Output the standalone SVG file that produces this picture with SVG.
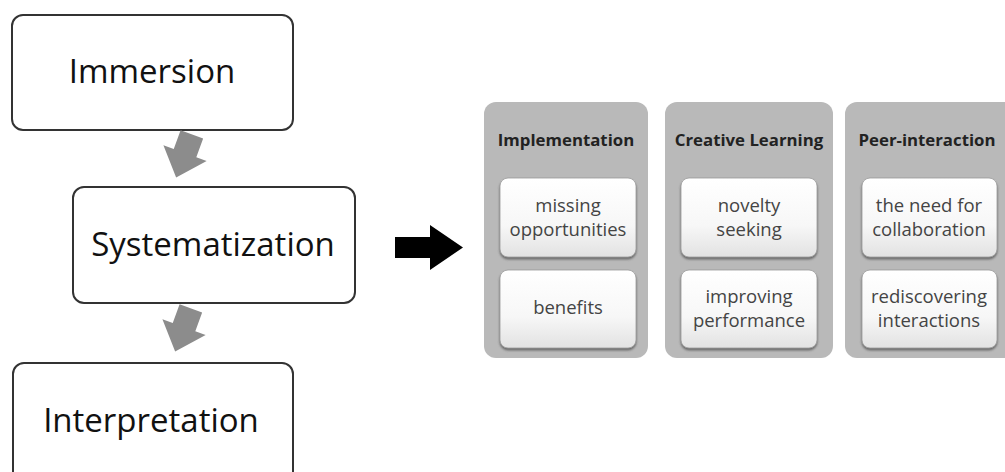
<svg xmlns="http://www.w3.org/2000/svg" width="1005" height="472" viewBox="0 0 1005 472">
<style>
.stage{fill:#fff;stroke:#333;stroke-width:2}
.big{font-family:"Open Sans","Liberation Sans",sans-serif;font-size:33px;fill:#111;text-anchor:middle}
.panel{fill:#b9b9b9}
.hdr{font-family:"Open Sans","Liberation Sans",sans-serif;font-size:16.8px;font-weight:bold;fill:#222;text-anchor:middle}
.item{fill:url(#g);stroke:#9a9a9a;stroke-width:0.8;filter:url(#sh)}
.it{font-family:"Open Sans","Liberation Sans",sans-serif;font-size:18.5px;fill:#444;text-anchor:middle}
.garrow{fill:#8c8c8c}
</style>
<defs>
<linearGradient id="g" x1="0" y1="0" x2="0" y2="1">
<stop offset="0" stop-color="#ffffff"/>
<stop offset="0.6" stop-color="#f7f7f7"/>
<stop offset="1" stop-color="#e2e2e2"/>
</linearGradient>
<filter id="sh" x="-10%" y="-10%" width="120%" height="130%">
<feDropShadow dx="0" dy="2" stdDeviation="1.2" flood-color="#555" flood-opacity="0.8"/>
</filter>
<path id="ga" d="M-12,-23 L12,-23 L12,-3 L23,-3 L0,23 L-23,-3 L-12,-3 Z"/>
</defs>
<g id="immersion">
<rect class="stage" x="12" y="15" width="281" height="115" rx="11"/>
<text class="big" x="152" y="83">Immersion</text>
</g>
<g id="systematization">
<rect class="stage" x="73" y="187" width="282" height="116" rx="11"/>
<text class="big" x="213" y="256">Systematization</text>
</g>
<g id="interpretation">
<rect class="stage" x="13" y="363" width="280" height="120" rx="11"/>
<text class="big" x="151" y="432">Interpretation</text>
</g>
<g id="connectors">
<use href="#ga" class="garrow" transform="translate(184,156) rotate(20)"/>
<use href="#ga" class="garrow" transform="translate(183,330) rotate(20)"/>
<path d="M395,237 L430,237 L430,225 L463,247.5 L430,270 L430,258 L395,258 Z" fill="#000"/>
</g>
<g id="implementation">
<rect class="panel" x="484" y="102" width="164" height="256" rx="12"/>
<text class="hdr" x="566" y="146">Implementation</text>
<rect class="item" x="500" y="178" width="136" height="79" rx="8"/>
<text class="it" x="568" y="212">missing</text>
<text class="it" x="568" y="236">opportunities</text>
<rect class="item" x="500" y="270" width="136" height="78" rx="8"/>
<text class="it" x="568" y="314">benefits</text>
</g>
<g id="creative-learning">
<rect class="panel" x="665" y="102" width="168" height="256" rx="12"/>
<text class="hdr" x="749" y="146">Creative Learning</text>
<rect class="item" x="681" y="178" width="136" height="79" rx="8"/>
<text class="it" x="749" y="212">novelty</text>
<text class="it" x="749" y="236">seeking</text>
<rect class="item" x="681" y="270" width="136" height="78" rx="8"/>
<text class="it" x="749" y="303">improving</text>
<text class="it" x="749" y="327">performance</text>
</g>
<g id="peer-interaction">
<rect class="panel" x="845" y="102" width="175" height="256" rx="12"/>
<text class="hdr" x="927" y="146">Peer-interaction</text>
<rect class="item" x="862" y="178" width="135" height="79" rx="8"/>
<text class="it" x="929" y="212">the need for</text>
<text class="it" x="929" y="236">collaboration</text>
<rect class="item" x="862" y="270" width="135" height="78" rx="8"/>
<text class="it" x="929" y="303">rediscovering</text>
<text class="it" x="929" y="327">interactions</text>
</g>
</svg>
